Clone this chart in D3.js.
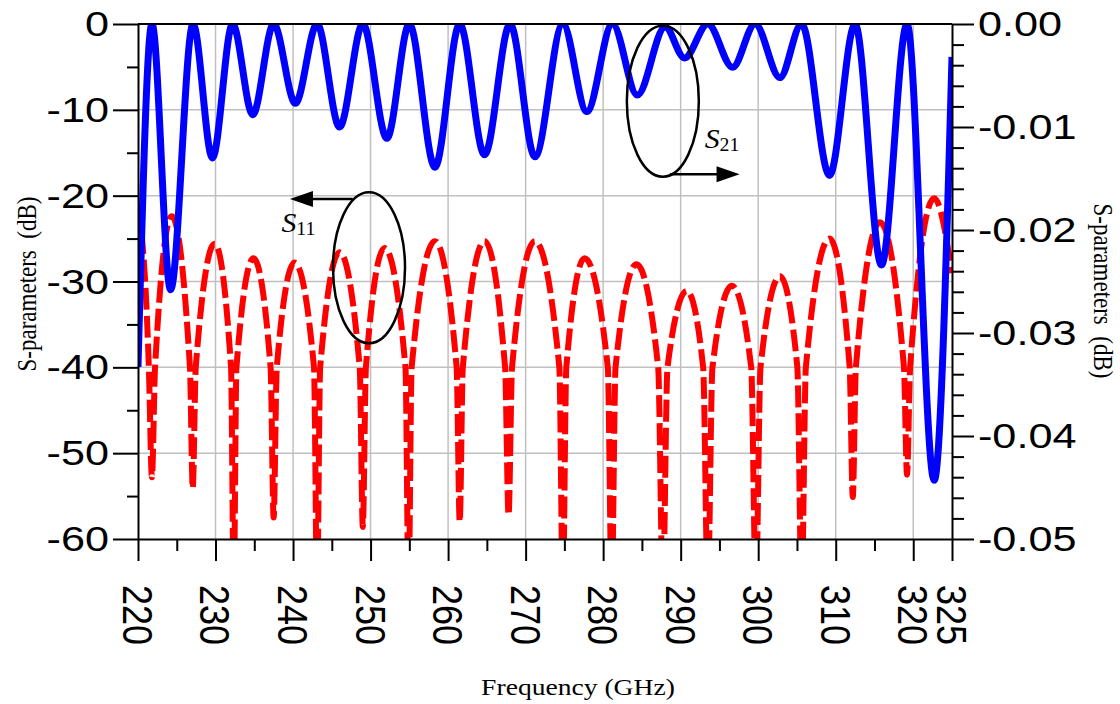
<!DOCTYPE html>
<html>
<head>
<meta charset="utf-8">
<title>S-parameters</title>
<script src="https://cdnjs.cloudflare.com/ajax/libs/d3/7.8.5/d3.min.js"></script>
<style>
  body { margin: 0; background: #fff; }
  .tick text { font-family: "Liberation Sans", Arial, sans-serif; font-size: 36px; fill: #000; }
  .tick line, .domain { stroke: #000; stroke-width: 2; }
  .title { font-family: "Liberation Serif", "Times New Roman", serif; font-size: 23px; white-space: pre; fill: #000; }
</style>
</head>
<body>
<script>
// tick values
var xMajor = [220, 230, 240, 250, 260, 270, 280, 290, 300, 310, 320, 325];
var xMinor = [225, 235, 245, 255, 265, 275, 285, 295, 305, 315];
var yLeftMajor = [0, -10, -20, -30, -40, -50, -60];
var yLeftMinor = [-5, -15, -25, -35, -45, -55];
var yRightMajor = [0, -0.01, -0.02, -0.03, -0.04, -0.05];
var yRightMinor = [-0.002, -0.004, -0.006, -0.008, -0.012, -0.014, -0.016, -0.018,
                   -0.022, -0.024, -0.026, -0.028, -0.032, -0.034, -0.036, -0.038,
                   -0.042, -0.044, -0.046, -0.048];

// S21 (right axis, dB) - peaks and dips
var s21Freq = [220.0, 221.8, 224.2, 227.1, 229.6, 232.2, 234.8, 237.5, 240.3, 243.1,
               246.0, 249.0, 252.1, 255.0, 258.3, 261.5, 264.7, 268.0, 271.2, 274.8,
               277.9, 281.2, 284.4, 288.0, 290.5, 293.5, 296.7, 299.6, 302.8, 305.6,
               309.2, 312.5, 315.9, 319.2, 322.7, 325.0];
var s21Db = [-0.0333, 0, -0.0258, 0, -0.0130, 0, -0.0088, 0, -0.0077, 0,
             -0.0100, 0, -0.0111, 0, -0.0139, 0, -0.0127, 0, -0.0129, 0,
             -0.0085, 0, -0.0069, -0.0003, -0.0033, 0, -0.0042, 0, -0.0052, 0,
             -0.0147, 0, -0.0234, 0, -0.0443, -0.0032];

// S11 (left axis, dB) - peaks, nulls and null flanks
var s11Freq = [220.0,
  221.4, 221.8, 222.2, 224.35,
  226.7, 227.06, 227.45, 229.9,
  232.0, 232.35, 232.7, 234.9,
  237.1, 237.5, 237.9, 240.2,
  242.7, 243.1, 243.5, 246.0,
  248.6, 249.0, 249.4, 251.8,
  254.5, 254.9, 255.3, 258.3,
  261.1, 261.5, 261.9, 264.7,
  267.35, 267.8, 268.25, 271.2,
  274.35, 274.8, 275.25, 277.6,
  280.6, 281.1, 281.6, 284.3,
  287.1, 287.7, 288.3, 290.8,
  292.9, 293.5, 294.1, 296.6,
  299.1, 299.7, 300.3, 302.8,
  305.05, 305.6, 306.15, 309.2,
  311.8, 312.2, 312.6, 315.7,
  318.8, 319.2, 319.6, 322.7,
  325.0];
var s11Db = [-21.0,
  -40, -52.8, -40, -22.4,
  -40, -54.1, -40, -25.6,
  -40, -66, -40, -27.3,
  -40, -57.5, -40, -27.8,
  -40, -66, -40, -26.6,
  -40, -58.6, -40, -26.1,
  -40, -66, -40, -25.3,
  -40, -58.0, -40, -25.3,
  -40, -57.2, -40, -25.3,
  -40, -66, -40, -27.3,
  -40, -66, -40, -28.0,
  -40, -66, -40, -31.1,
  -40, -66, -40, -30.5,
  -40, -66, -40, -29.4,
  -40, -66, -40, -25.0,
  -40, -55.1, -40, -23.1,
  -40, -52.5, -40, -20.3,
  -29.0];

var W = 1120, H = 704;
var SX = 1.2; // lettering in the original is stretched sideways

var svg = d3.select("body").append("svg").attr("width", W).attr("height", H);
svg.append("rect").attr("width", W).attr("height", H).attr("fill", "#fff");

var x = d3.scaleLinear().domain([220, 325]).range([138, 952]);
var yL = d3.scaleLinear().domain([-60, 0]).range([539, 24]);
var yR = d3.scaleLinear().domain([-0.05, 0]).range([539, 24]);

// grid
svg.append("g").selectAll("line")
  .data(xMajor.filter(function(d) { return d > 220 && d < 325; }))
  .enter().append("line")
  .attr("x1", x).attr("x2", x).attr("y1", 24).attr("y2", 539)
  .attr("stroke", "#c0c0c0").attr("stroke-width", 1.5);
svg.append("g").selectAll("line")
  .data(yLeftMajor.filter(function(d) { return d < 0 && d > -60; }))
  .enter().append("line")
  .attr("x1", 138).attr("x2", 952).attr("y1", yL).attr("y2", yL)
  .attr("stroke", "#c0c0c0").attr("stroke-width", 1.5);

svg.append("clipPath").attr("id", "plot")
  .append("rect").attr("x", 138).attr("y", 24).attr("width", 814).attr("height", 515);

var lineL = d3.line()
  .x(function(d) { return x(d[0]); })
  .y(function(d) { return yL(d[1]); })
  .curve(d3.curveMonotoneX);
var lineR = d3.line()
  .x(function(d) { return x(d[0]); })
  .y(function(d) { return yR(d[1]); })
  .curve(d3.curveMonotoneX);

svg.append("path")
  .datum(d3.zip(s11Freq, s11Db))
  .attr("d", lineL)
  .attr("clip-path", "url(#plot)")
  .attr("fill", "none").attr("stroke", "#ff0000").attr("stroke-width", 6)
  .attr("stroke-dasharray", "22,6");

svg.append("path")
  .datum(d3.zip(s21Freq, s21Db))
  .attr("d", lineR)
  .attr("clip-path", "url(#plot)")
  .attr("fill", "none").attr("stroke", "#0000ff").attr("stroke-width", 7);

// axes
var gL = svg.append("g").attr("transform", "translate(138,0)")
  .call(d3.axisLeft(yL).tickValues(yLeftMajor).tickSize(25).tickSizeOuter(0).tickPadding(4)
    .tickFormat(function(d) { return String(d); }));
gL.selectAll(".tick text").attr("x", -29 / SX).attr("transform", "scale(" + SX + ",1)");
svg.append("g").attr("transform", "translate(138,0)")
  .call(d3.axisLeft(yL).tickValues(yLeftMinor).tickSize(11).tickFormat(""))
  .select(".domain").remove();

var gR = svg.append("g").attr("transform", "translate(952,0)")
  .call(d3.axisRight(yR).tickValues(yRightMajor).tickSize(22).tickSizeOuter(0).tickPadding(4)
    .tickFormat(function(d) { return d.toFixed(2); }));
gR.selectAll(".tick text").attr("x", 26 / SX).attr("transform", "scale(" + SX + ",1)");
svg.append("g").attr("transform", "translate(952,0)")
  .call(d3.axisRight(yR).tickValues(yRightMinor).tickSize(12).tickFormat(""))
  .select(".domain").remove();

var gB = svg.append("g").attr("transform", "translate(0,539)")
  .call(d3.axisBottom(x).tickValues(xMajor).tickSize(22).tickSizeOuter(0)
    .tickFormat(function(d) { return String(d); }));
gB.selectAll(".tick text")
  .attr("x", 46).attr("y", 0).attr("dy", "0.36em")
  .attr("text-anchor", "start")
  .attr("transform", "scale(" + SX + ",1) rotate(90)");
svg.append("g").attr("transform", "translate(0,539)")
  .call(d3.axisBottom(x).tickValues(xMinor).tickSize(12).tickFormat(""))
  .select(".domain").remove();

// top frame
svg.append("line").attr("x1", 138).attr("x2", 952).attr("y1", 24).attr("y2", 24)
  .attr("stroke", "#000").attr("stroke-width", 2);

// titles
svg.append("text").attr("class", "title")
  .attr("transform", "translate(578,695) scale(" + SX + ",1)")
  .attr("text-anchor", "middle").text("Frequency (GHz)");
svg.append("text").attr("class", "title")
  .attr("transform", "translate(36,284) scale(" + SX + ",1) rotate(-90)")
  .attr("text-anchor", "middle").text("S-parameters  (dB)");
svg.append("text").attr("class", "title")
  .attr("transform", "translate(1094,291) scale(" + SX + ",1) rotate(90)")
  .attr("text-anchor", "middle").text("S-parameters  (dB)");

// annotations: ellipses, arrows and labels
function note(cx, cy, lx, ly, sub, ax0, ax1, ay) {
  svg.append("ellipse").attr("cx", cx).attr("cy", cy).attr("rx", 36).attr("ry", 75.5)
    .attr("fill", "none").attr("stroke", "#000").attr("stroke-width", 2.5);
  var dir = ax1 > ax0 ? 1 : -1;
  svg.append("line").attr("x1", ax0).attr("x2", ax1 - dir * 10).attr("y1", ay).attr("y2", ay)
    .attr("stroke", "#000").attr("stroke-width", 2.5);
  svg.append("path")
    .attr("d", "M" + ax1 + "," + ay + "L" + (ax1 - dir * 23) + "," + (ay - 8) +
               "L" + (ax1 - dir * 23) + "," + (ay + 8) + "Z")
    .attr("fill", "#000");
  var t = svg.append("text")
    .attr("transform", "translate(" + lx + "," + ly + ") scale(1.1,1)")
    .attr("font-family", "'Liberation Serif', 'Times New Roman', serif");
  t.append("tspan").attr("font-style", "italic").attr("font-size", 27).text("S");
  t.append("tspan").attr("font-size", 18).attr("dy", 3).text(sub);
}
note(x(249.8), yL(-28.4), x(238.5), yL(-24.2), "11", x(247.7), x(239.6), yL(-20.4));
note(x(287.7), yL(-9.0), x(293.1), yL(-14.4), "21", x(288.6), x(297.6), yL(-17.5));
</script>
</body>
</html>
